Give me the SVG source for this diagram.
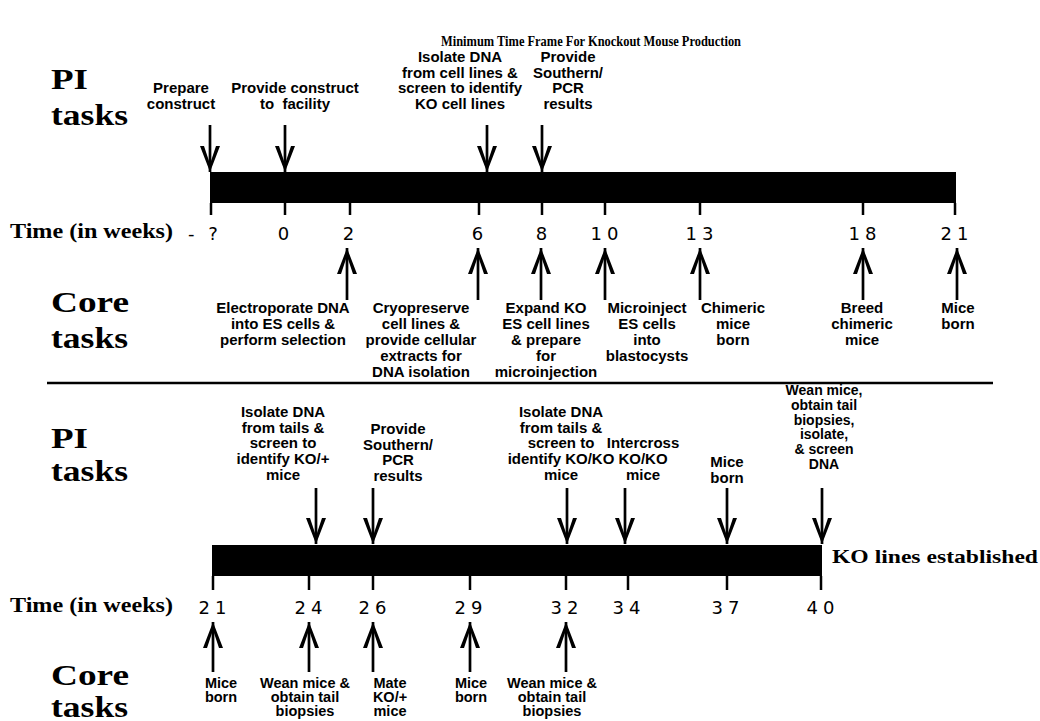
<svg xmlns="http://www.w3.org/2000/svg" width="1040" height="721" viewBox="0 0 1040 721">
<defs>
<style>
.t{font-family:"Liberation Sans",Arial,sans-serif;font-weight:bold;font-size:15px;text-anchor:middle;fill:#000}
.s{font-size:14.5px}
.w{font-size:14px}
.big{font-family:"Liberation Serif","Times New Roman",serif;font-weight:bold;font-size:29px;fill:#000}
.tm{font-family:"Liberation Serif","Times New Roman",serif;font-weight:bold;font-size:20px;fill:#000}
.ttl{font-family:"Liberation Serif","Times New Roman",serif;font-weight:bold;font-size:14.5px;fill:#000}
.n{font-family:"DejaVu Sans",sans-serif;font-size:18px;letter-spacing:5px;text-anchor:middle;fill:#000}
.bar{fill:#000}
.tick{stroke:#000;stroke-width:2.5}
.arr{stroke:#000;stroke-width:2.7;fill:none;marker-end:url(#ah)}
.sep{stroke:#000;stroke-width:2.5}
</style>
<marker id="ah" markerUnits="userSpaceOnUse" viewBox="0 0 26 20" markerWidth="26" markerHeight="20" refX="26" refY="10" orient="auto"><path d="M26,10 L0,0 L0,4 L18,10 L0,16 L0,20 Z" fill="#000"/></marker>
</defs>
<rect width="1040" height="721" fill="#fff"/>
<text class="ttl" x="441" y="46" textLength="300" lengthAdjust="spacingAndGlyphs">Minimum Time Frame For Knockout Mouse Production</text>

<!-- top section -->
<g id="top-side-labels">
<text class="big" x="51" y="89" textLength="37" lengthAdjust="spacingAndGlyphs">PI</text>
<text class="big" x="51" y="125" textLength="77" lengthAdjust="spacingAndGlyphs">tasks</text>
<text class="tm" x="10" y="238" textLength="163" lengthAdjust="spacingAndGlyphs">Time (in weeks)</text>
<text class="big" x="51" y="312" textLength="78" lengthAdjust="spacingAndGlyphs">Core</text>
<text class="big" x="51" y="348" textLength="77" lengthAdjust="spacingAndGlyphs">tasks</text>
</g>
<g id="top-timeline">
<rect class="bar" x="210" y="172" width="746" height="31"/>
<path class="tick" d="M211,203V215M285,203V215M350,203V215M479,203V215M542,203V215M605,203V215M700,203V215M863,203V215M955,203V215"/>
<text class="n" x="205" y="240" style="letter-spacing:4px">- ?</text>
<text class="n" x="286" y="240">0</text>
<text class="n" x="351" y="240">2</text>
<text class="n" x="480" y="240">6</text>
<text class="n" x="544" y="240">8</text>
<text class="n" x="607" y="240">10</text>
<text class="n" x="702" y="240">13</text>
<text class="n" x="865" y="240">18</text>
<text class="n" x="957" y="240">21</text>
</g>
<g id="t-prepare"><text class="t" x="181" y="93">Prepare<tspan x="181" dy="16">construct</tspan></text></g>
<g id="t-provide"><text class="t" x="295" y="93" xml:space="preserve">Provide construct<tspan x="295" dy="16">to  facility</tspan></text></g>
<g id="t-isolate"><text class="t" x="460" y="62">Isolate DNA<tspan x="460" dy="15.7">from cell lines &amp;</tspan><tspan x="460" dy="15.7">screen to identify</tspan><tspan x="460" dy="15.7">KO cell lines</tspan></text></g>
<g id="t-southern"><text class="t" x="568" y="62">Provide<tspan x="568" dy="15.7">Southern/</tspan><tspan x="568" dy="15.7">PCR</tspan><tspan x="568" dy="15.7">results</tspan></text></g>
<g id="c-electro"><text class="t" x="283" y="313">Electroporate DNA<tspan x="283" dy="16">into ES cells &amp;</tspan><tspan x="283" dy="16">perform selection</tspan></text></g>
<g id="c-cryo"><text class="t" x="421" y="313">Cryopreserve<tspan x="421" dy="16">cell lines &amp;</tspan><tspan x="421" dy="16">provide cellular</tspan><tspan x="421" dy="16">extracts for</tspan><tspan x="421" dy="16">DNA isolation</tspan></text></g>
<g id="c-expand"><text class="t" x="546" y="313">Expand KO<tspan x="546" dy="16">ES cell lines</tspan><tspan x="546" dy="16">&amp; prepare</tspan><tspan x="546" dy="16">for</tspan><tspan x="546" dy="16">microinjection</tspan></text></g>
<g id="c-micro"><text class="t" x="647" y="313">Microinject<tspan x="647" dy="16">ES cells</tspan><tspan x="647" dy="16">into</tspan><tspan x="647" dy="16">blastocysts</tspan></text></g>
<g id="c-chimeric"><text class="t" x="733" y="313">Chimeric<tspan x="733" dy="16">mice</tspan><tspan x="733" dy="16">born</tspan></text></g>
<g id="c-breed"><text class="t" x="862" y="313">Breed<tspan x="862" dy="16">chimeric</tspan><tspan x="862" dy="16">mice</tspan></text></g>
<g id="c-born1"><text class="t" x="958" y="313">Mice<tspan x="958" dy="16">born</tspan></text></g>

<line class="sep" x1="47" y1="383" x2="993" y2="383"/>

<!-- bottom section -->
<g id="bottom-side-labels">
<text class="big" x="51" y="448" textLength="37" lengthAdjust="spacingAndGlyphs">PI</text>
<text class="big" x="51" y="481" textLength="77" lengthAdjust="spacingAndGlyphs">tasks</text>
<text class="tm" x="10" y="612" textLength="163" lengthAdjust="spacingAndGlyphs">Time (in weeks)</text>
<text class="big" x="51" y="685" textLength="78" lengthAdjust="spacingAndGlyphs">Core</text>
<text class="big" x="51" y="717" textLength="77" lengthAdjust="spacingAndGlyphs">tasks</text>
</g>
<g id="bottom-timeline">
<rect class="bar" x="212" y="545" width="610" height="31"/>
<path class="tick" d="M213,576V590M309,576V590M373,576V590M470,576V590M566,576V590M628,576V590M727,576V590M821,576V590"/>
<text class="n" x="215" y="614">21</text>
<text class="n" x="311" y="614">24</text>
<text class="n" x="375" y="614">26</text>
<text class="n" x="471" y="614">29</text>
<text class="n" x="567" y="614">32</text>
<text class="n" x="629" y="614">34</text>
<text class="n" x="728" y="614">37</text>
<text class="n" x="823" y="614">40</text>
<text class="big" x="832" y="563" style="font-size:19px" textLength="206" lengthAdjust="spacingAndGlyphs">KO lines established</text>
</g>
<g id="b-isolate1"><text class="t" x="283" y="417">Isolate DNA<tspan x="283" dy="15.7">from tails &amp;</tspan><tspan x="283" dy="15.7">screen to</tspan><tspan x="283" dy="15.7">identify KO/+</tspan><tspan x="283" dy="15.7">mice</tspan></text></g>
<g id="b-southern"><text class="t" x="398" y="434">Provide<tspan x="398" dy="15.7">Southern/</tspan><tspan x="398" dy="15.7">PCR</tspan><tspan x="398" dy="15.7">results</tspan></text></g>
<g id="b-isolate2"><text class="t" x="561" y="417">Isolate DNA<tspan x="561" dy="15.7">from tails &amp;</tspan><tspan x="561" dy="15.7">screen to</tspan><tspan x="561" dy="15.7">identify KO/KO</tspan><tspan x="561" dy="15.7">mice</tspan></text></g>
<g id="b-intercross"><text class="t" x="643" y="448.4">Intercross<tspan x="643" dy="15.7">KO/KO</tspan><tspan x="643" dy="15.7">mice</tspan></text></g>
<g id="b-miceborn"><text class="t" x="727" y="467">Mice<tspan x="727" dy="16">born</tspan></text></g>
<g id="b-wean"><text class="t w" x="824" y="395">Wean mice,<tspan x="824" dy="14.8">obtain tail</tspan><tspan x="824" dy="14.8">biopsies,</tspan><tspan x="824" dy="14.8">isolate,</tspan><tspan x="824" dy="14.8">&amp; screen</tspan><tspan x="824" dy="14.8">DNA</tspan></text></g>
<g id="bc-born1"><text class="t s" x="221" y="688">Mice<tspan x="221" dy="14">born</tspan></text></g>
<g id="bc-wean1"><text class="t s" x="305" y="688">Wean mice &amp;<tspan x="305" dy="14">obtain tail</tspan><tspan x="305" dy="14">biopsies</tspan></text></g>
<g id="bc-mate"><text class="t s" x="390" y="688">Mate<tspan x="390" dy="14">KO/+</tspan><tspan x="390" dy="14">mice</tspan></text></g>
<g id="bc-born2"><text class="t s" x="471" y="688">Mice<tspan x="471" dy="14">born</tspan></text></g>
<g id="bc-wean2"><text class="t s" x="552" y="688">Wean mice &amp;<tspan x="552" dy="14">obtain tail</tspan><tspan x="552" dy="14">biopsies</tspan></text></g>

<g id="connectors">
<path class="arr" d="M210,125V172"/>
<path class="arr" d="M285,125V172"/>
<path class="arr" d="M487,125V172"/>
<path class="arr" d="M542,125V172"/>
<path class="arr" d="M347,300V248"/>
<path class="arr" d="M478,300V248"/>
<path class="arr" d="M541,300V248"/>
<path class="arr" d="M605,300V248"/>
<path class="arr" d="M700,300V248"/>
<path class="arr" d="M863,300V248"/>
<path class="arr" d="M957,300V248"/>
<path class="arr" d="M316,488V544"/>
<path class="arr" d="M373,488V544"/>
<path class="arr" d="M567,488V544"/>
<path class="arr" d="M625,488V544"/>
<path class="arr" d="M727,488V544"/>
<path class="arr" d="M822,488V544"/>
<path class="arr" d="M213,672V622"/>
<path class="arr" d="M309,672V622"/>
<path class="arr" d="M373,672V622"/>
<path class="arr" d="M470,672V622"/>
<path class="arr" d="M566,672V622"/>
</g>
</svg>
